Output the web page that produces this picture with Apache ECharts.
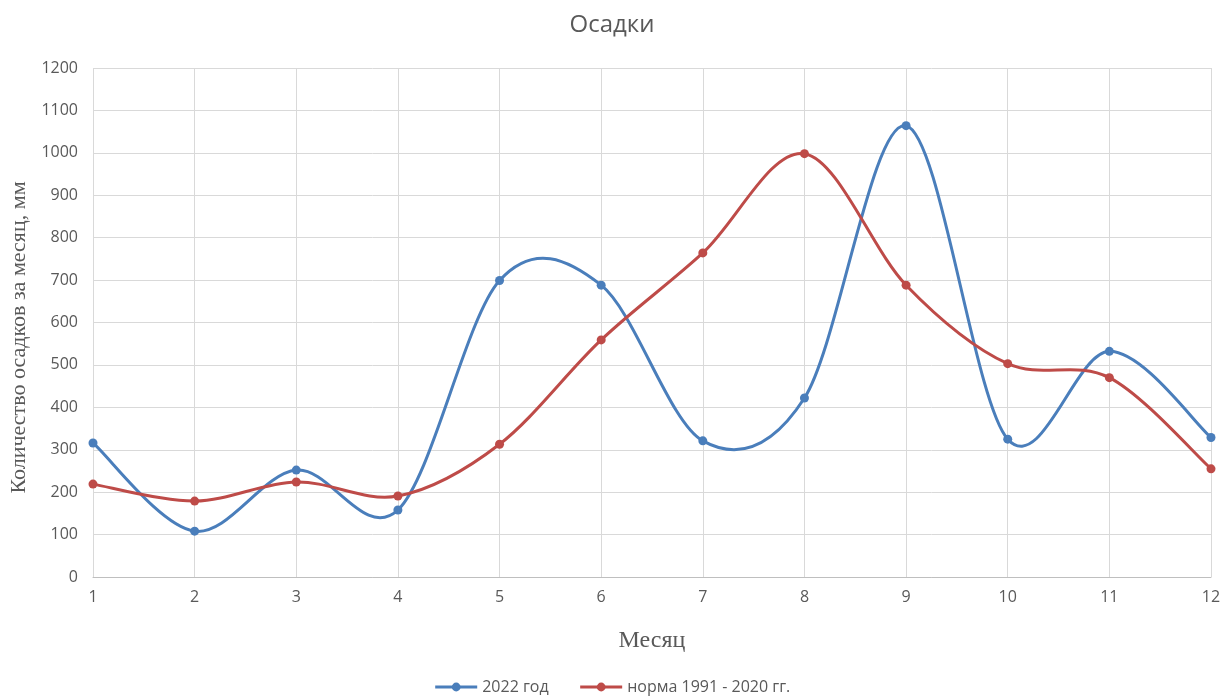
<!DOCTYPE html>
<html>
<head>
<meta charset="utf-8">
<script src="https://cdn.jsdelivr.net/npm/echarts@6/dist/echarts.min.js"></script>
<style>html,body{margin:0;padding:0;background:#fff}#c{width:1224px;height:697px}</style>
</head>
<body>
<div id="c"></div>
<script>
const months = ['1','2','3','4','5','6','7','8','9','10','11','12'];
const yTicks = [0,100,200,300,400,500,600,700,800,900,1000,1100,1200];
const series2022 = [316, 108, 252, 158, 699, 688, 321, 422, 1064, 325, 532, 329];
const seriesNorm = [219, 179, 224, 191, 313, 559, 764, 998, 688, 503, 470, 255];
const seriesNames = ['2022 год', 'норма 1991 - 2020 гг.'];
const colors = ['#4a7ebb', '#be4b48'];

const chart = echarts.init(document.getElementById('c'));
const sans = 'Open Sans';

// Excel-like smoothed line: Catmull-Rom Bezier segments through the data points,
// positioned by the chart's own axes via api.coord.
function smoothSeries(values, color, z) {
  return {
    type: 'custom', silent: true, z: z,
    data: values.slice(0, -1).map((v, i) => [i, v]),
    encode: { x: 0, y: 1 },
    renderItem: function (params, api) {
      const i = params.dataIndex;
      const n = values.length;
      const p = k => api.coord([Math.max(0, Math.min(n - 1, k)), values[Math.max(0, Math.min(n - 1, k))]]);
      const p0 = p(i - 1), p1 = p(i), p2 = p(i + 1), p3 = p(i + 2);
      return {
        type: 'bezierCurve',
        shape: {
          x1: p1[0], y1: p1[1], x2: p2[0], y2: p2[1],
          cpx1: p1[0] + (p2[0] - p0[0]) / 6, cpy1: p1[1] + (p2[1] - p0[1]) / 6,
          cpx2: p2[0] - (p3[0] - p1[0]) / 6, cpy2: p2[1] - (p3[1] - p1[1]) / 6
        },
        style: { stroke: color, lineWidth: 3, fill: null, lineCap: 'round' }
      };
    }
  };
}

chart.setOption({
  animation: false,
  title: {
    text: 'Осадки', left: 'center', top: 8,
    textStyle: { fontFamily: sans, fontSize: 24, fontWeight: 'normal', color: '#595959' }
  },
  legend: {
    bottom: -3, left: 'center', itemWidth: 42, itemHeight: 11, itemGap: 30,
    textStyle: { fontFamily: sans, fontSize: 16, color: '#595959' },
    data: seriesNames.map((n, k) => ({ name: n, lineStyle: { opacity: 1, width: 3, color: colors[k] } }))
  },
  grid: { left: 93, right: 13, top: 68, bottom: 120, outerBoundsMode: 'none' },
  xAxis: {
    type: 'category', data: months, boundaryGap: false,
    name: 'Месяц', nameLocation: 'middle', nameGap: 52,
    nameTextStyle: { fontFamily: 'Liberation Serif', fontSize: 24, color: '#595959' },
    axisLine: { lineStyle: { color: '#bfbfbf' } },
    axisTick: { show: false },
    axisLabel: { fontFamily: sans, fontSize: 16, color: '#595959', margin: 12 },
    splitLine: { show: true, lineStyle: { color: '#d9d9d9' } }
  },
  yAxis: {
    type: 'value', min: yTicks[0], max: yTicks[yTicks.length-1], interval: 100,
    name: 'Количество осадков за месяц, мм', nameLocation: 'middle', nameGap: 62,
    nameTextStyle: { fontFamily: 'Liberation Serif', fontSize: 22, color: '#595959', padding: [0, 30, 0, 0] },
    axisLine: { show: false }, axisTick: { show: false },
    axisLabel: { fontFamily: sans, fontSize: 16, color: '#595959', margin: 15, formatter: v => String(v) },
    splitLine: { lineStyle: { color: '#d9d9d9' } }
  },
  series: [
    smoothSeries(series2022, colors[0], 2),
    {
      name: seriesNames[0], type: 'line', data: series2022, z: 3,
      symbol: 'circle', symbolSize: 9,
      lineStyle: { opacity: 0, width: 3, color: colors[0] }, itemStyle: { color: colors[0] }
    },
    smoothSeries(seriesNorm, colors[1], 4),
    {
      name: seriesNames[1], type: 'line', data: seriesNorm, z: 5,
      symbol: 'circle', symbolSize: 9,
      lineStyle: { opacity: 0, width: 3, color: colors[1] }, itemStyle: { color: colors[1] }
    }
  ]
});
</script>
</body>
</html>
